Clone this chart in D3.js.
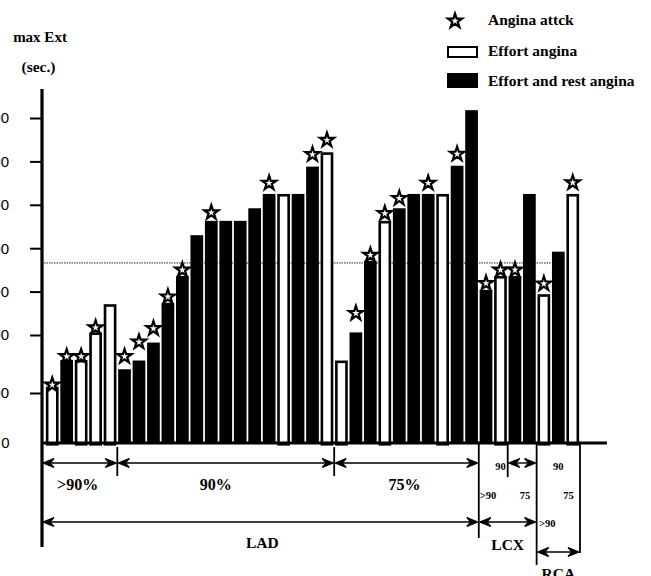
<!DOCTYPE html>
<html>
<head>
<meta charset="utf-8">
<script src="https://cdn.jsdelivr.net/npm/d3@7"></script>
<style>
  body { margin: 0; background: #fff; }
  svg { display: block; }
  .serif { font-family: "Liberation Serif", "Times New Roman", serif; font-weight: bold; }
</style>
</head>
<body>
<div id="chart"></div>
<script>
// Patients, in the order they are plotted
const patients = d3.range(1, 38);
// max exercise time (sec.)
const maxExt = [111, 157, 157, 206, 271, 141, 156, 187, 274, 336,
                430, 463, 463, 463, 492, 525, 525, 525, 588, 621,
                156, 206, 371, 463, 492, 525, 525, 525, 590, 718,
                304, 336, 336, 525, 294, 392, 525];
// E = effort angina, R = effort and rest angina
const anginaType = ["E", "R", "E", "E", "E", "R", "R", "R", "R", "R",
                    "R", "R", "R", "R", "R", "R", "E", "R", "R", "E",
                    "E", "R", "R", "E", "R", "R", "R", "E", "R", "R",
                    "R", "E", "R", "R", "E", "R", "E"];
// time of angina attack (sec.), null = no attack
const attack = [114, 163, 163, 217, null, 163, 188, 215, 288, 350,
                null, 482, null, null, null, 550, null, null, 616, 649,
                null, 250, 384, 480, 515, null, 550, null, 617, null,
                319, 350, 350, null, 318, null, 551];
const refLine = 366;
const yTicks = [0, 100, 200, 300, 400, 500, 600, 700];

// stenosis groups (first / last patient)
const stenosis = [
  { label: ">90%", from: 1, to: 5 },
  { label: "90%", from: 6, to: 20 },
  { label: "75%", from: 21, to: 30 }
];
const vessels = [
  { label: "LAD", from: 1, to: 30 },
  { label: "LCX", from: 31, to: 34 },
  { label: "RCA", from: 35, to: 37 }
];
const legendItems = ["Angina attck", "Effort angina", "Effort and rest angina"];

const width = 651;
const height = 576;
const axisX = 42;
const baseY = 443;

const svg = d3.select("#chart").append("svg")
    .attr("width", width)
    .attr("height", height)
    .attr("viewBox", [0, 0, width, height]);

const x = d3.scaleBand()
    .domain(patients)
    .range([45, 580])
    .paddingInner(0.12)
    .paddingOuter(0.06);

// the original axis is stretched at the low end
const y = d3.scaleLinear()
    .domain([0, 100, 200, 700])
    .range([baseY, 393, 335, 118]);

const gap = x.step() - x.bandwidth();
const leftEdge = p => x(p) - gap / 2;
const rightEdge = p => x(p) + x.bandwidth() + gap / 2;

// dotted reference line
svg.append("line")
    .attr("x1", axisX + 2).attr("x2", leftEdge(36))
    .attr("y1", y(refLine)).attr("y2", y(refLine))
    .attr("stroke", "#222").attr("stroke-width", 1)
    .attr("stroke-dasharray", "1.5,1");

// bars
const sw = 2.6;
svg.append("g")
  .selectAll("rect")
  .data(patients)
  .join("rect")
    .attr("x", p => anginaType[p - 1] === "E" ? x(p) + sw / 2 : x(p))
    .attr("width", p => anginaType[p - 1] === "E" ? x.bandwidth() - sw : x.bandwidth())
    .attr("y", p => anginaType[p - 1] === "E" ? y(maxExt[p - 1]) + sw / 2 : y(maxExt[p - 1]))
    .attr("height", p => baseY - y(maxExt[p - 1]))
    .attr("fill", p => anginaType[p - 1] === "E" ? "#fff" : "#000")
    .attr("stroke", p => anginaType[p - 1] === "E" ? "#000" : "none")
    .attr("stroke-width", sw);

// stars
const star = d3.symbol(d3.symbolStar, 62);
svg.append("g")
  .selectAll("path")
  .data(patients.filter(p => attack[p - 1] != null))
  .join("path")
    .attr("transform", p => `translate(${x(p) + x.bandwidth() / 2},${y(attack[p - 1])})`)
    .attr("d", star)
    .attr("fill", "#fff")
    .attr("stroke", "#000")
    .attr("stroke-width", 2.2)
    .attr("stroke-linejoin", "miter");

// y axis (labels run off the left edge, as in the scan)
const yAxis = svg.append("g")
    .attr("transform", `translate(${axisX},0)`)
    .call(d3.axisLeft(y).tickValues(yTicks.slice(1)).tickSize(12).tickFormat(d => d));
yAxis.select(".domain").remove();
yAxis.selectAll(".tick line").attr("stroke-width", 2);
yAxis.selectAll(".tick text")
    .attr("x", -33)
    .attr("font-family", "Liberation Sans, Arial, sans-serif")
    .attr("font-size", 15)
    .attr("fill", "#000");
svg.append("text")
    .attr("x", 9.5).attr("y", baseY + 5)
    .attr("text-anchor", "end")
    .attr("font-family", "Liberation Sans, Arial, sans-serif")
    .attr("font-size", 15)
    .text(yTicks[0]);

svg.append("line")
    .attr("x1", axisX).attr("x2", axisX)
    .attr("y1", 89).attr("y2", 547)
    .attr("stroke", "#000").attr("stroke-width", 3.2);
svg.append("line")
    .attr("x1", axisX).attr("x2", 607)
    .attr("y1", baseY).attr("y2", baseY)
    .attr("stroke", "#000").attr("stroke-width", 3.2);

svg.append("text").attr("class", "serif")
    .attr("x", 40).attr("y", 42).attr("text-anchor", "middle")
    .attr("font-size", 15).text("max Ext");
svg.append("text").attr("class", "serif")
    .attr("x", 38.5).attr("y", 72).attr("text-anchor", "middle")
    .attr("font-size", 15.5).text("(sec.)");

// legend
const lg = svg.append("g").attr("class", "serif").attr("font-size", 15.5);
lg.append("path")
    .attr("transform", "translate(455,21)")
    .attr("d", star).attr("fill", "#fff").attr("stroke", "#000").attr("stroke-width", 2.2);
lg.append("rect").attr("x", 448).attr("y", 47).attr("width", 29).attr("height", 10)
    .attr("fill", "#fff").attr("stroke", "#000").attr("stroke-width", 2);
lg.append("rect").attr("x", 447).attr("y", 73).attr("width", 31).attr("height", 15)
    .attr("fill", "#000");
lg.selectAll("text.leg")
  .data(legendItems)
  .join("text")
    .attr("x", 488)
    .attr("y", (d, i) => 25 + i * 30.5)
    .text(d => d);

// brackets
const br = svg.append("g").attr("stroke", "#000").attr("fill", "none");
function arrow(x1, x2, yy) {
  br.append("line").attr("x1", x1 + 2).attr("x2", x2 - 2).attr("y1", yy).attr("y2", yy)
      .attr("stroke-width", 1.4);
  br.append("path")
      .attr("d", `M${x1 + 1},${yy} L${x1 + 12},${yy - 4.5} L${x1 + 8},${yy} L${x1 + 12},${yy + 4.5} Z`)
      .attr("fill", "#000").attr("stroke-width", 1.2);
  br.append("path")
      .attr("d", `M${x2 - 1},${yy} L${x2 - 12},${yy - 4.5} L${x2 - 8},${yy} L${x2 - 12},${yy + 4.5} Z`)
      .attr("fill", "#000").attr("stroke-width", 1.2);
}
function vline(xx, y1, y2) {
  br.append("line").attr("x1", xx).attr("x2", xx).attr("y1", y1).attr("y2", y2)
      .attr("stroke-width", 1.8);
}

const rowY = 463;
const labelShift = [-2, -10, -2];
stenosis.forEach((s, i) => {
  const x1 = i === 0 ? axisX : leftEdge(s.from);
  const x2 = rightEdge(s.to);
  arrow(x1, x2, rowY);
  if (i > 0) vline(x1, baseY + 4, 476);
  svg.append("text").attr("class", "serif")
      .attr("x", (x1 + x2) / 2 + labelShift[i]).attr("y", 490)
      .attr("text-anchor", "middle").attr("font-size", 16)
      .text(s.label);
});

// LAD / LCX / RCA
const lad = vessels[0], lcx = vessels[1], rca = vessels[2];
arrow(axisX, rightEdge(lad.to), 522);
arrow(leftEdge(lcx.from), rightEdge(lcx.to), 522);
arrow(leftEdge(rca.from), rightEdge(rca.to), 552);
vline(leftEdge(lcx.from), baseY, 538);
vline(leftEdge(lcx.from + 2), baseY, 477);
vline(leftEdge(rca.from), baseY, 565);
vline(rightEdge(rca.to), baseY, 553);
arrow(leftEdge(lcx.from + 2), rightEdge(lcx.to), rowY);

const vLabelY = [548, 550, 579];
vessels.forEach((v, i) => {
  const x1 = i === 0 ? axisX : leftEdge(v.from);
  svg.append("text").attr("class", "serif")
      .attr("x", (x1 + rightEdge(v.to)) / 2 + (i === 0 ? 2 : 0)).attr("y", vLabelY[i])
      .attr("text-anchor", "middle").attr("font-size", 15.5)
      .text(v.label);
});

// per-vessel stenosis marks in LCX and RCA
const smallMarks = [
  { p: 31, label: ">90", row: 1 },
  { p: 32, label: "90", row: 0 },
  { p: 33.7, label: "75", row: 1 },
  { p: 35.1, label: ">90", row: 2 },
  { p: 36, label: "90", row: 0 },
  { p: 36.7, label: "75", row: 1 }
];
svg.append("g").attr("class", "serif").attr("font-size", 10.5)
  .selectAll("text")
  .data(smallMarks)
  .join("text")
    .attr("x", d => x(Math.floor(d.p)) + x.bandwidth() / 2 + (d.p % 1) * x.step() + (d.label === ">90" ? 2 : 0))
    .attr("y", d => [470, 499, 527][d.row])
    .attr("text-anchor", "middle")
    .text(d => d.label);
</script>
</body>
</html>
